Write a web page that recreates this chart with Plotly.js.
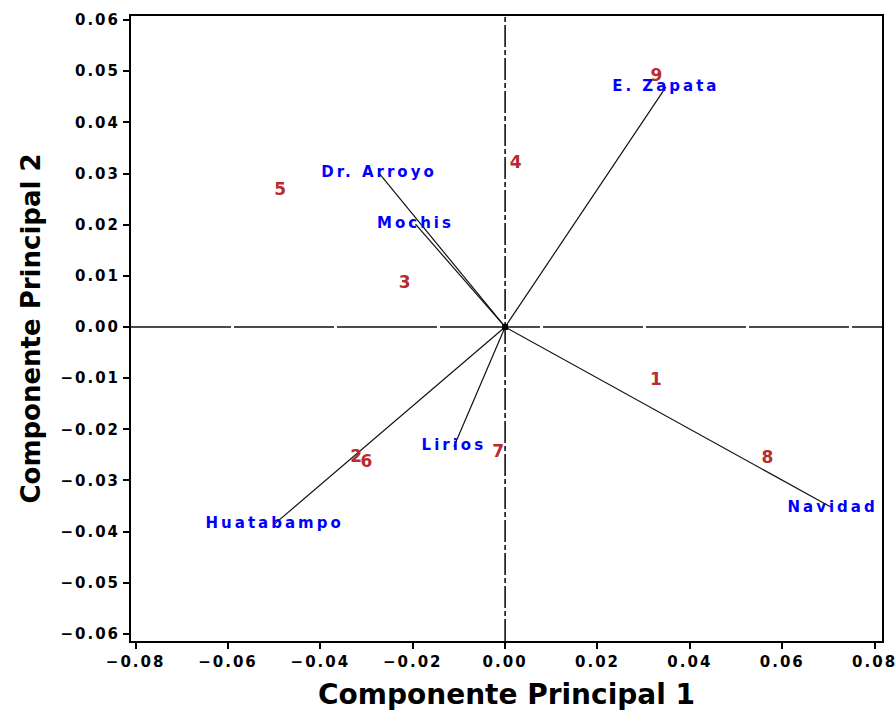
<!DOCTYPE html>
<html>
<head>
<meta charset="utf-8">
<script src="https://cdn.plot.ly/plotly-3.0.1.min.js"></script>
<style>
  html, body { margin: 0; padding: 0; background: #ffffff; }
  #chart { width: 896px; height: 721px; }
  /* wide, spaced lettering for tick labels and point labels */
  .xtick text, .ytick text { letter-spacing: 2px; }
  .textpoint text { letter-spacing: 3px; }
</style>
</head>
<body>
<div id="chart"></div>
<script>
// Variable loadings (arrows from the origin)
const varNames = ["Dr. Arroyo", "Mochis", "E. Zapata", "Huatabampo", "Lirios", "Navidad"];
const varPC1 = [-0.0273, -0.0194, 0.0348, -0.0499, -0.0111, 0.0709];
const varPC2 = [0.0301, 0.0201, 0.0469, -0.0385, -0.0234, -0.0354];

// Observation scores (numbered points)
const obsLabels = ["1", "2", "3", "4", "5", "6", "7", "8", "9"];
const obsPC1 = [0.0330, -0.0319, -0.0214, 0.0026, -0.0484, -0.0297, -0.0012, 0.0571, 0.0331];
const obsPC2 = [-0.0105, -0.0256, 0.0084, 0.0320, 0.0266, -0.0266, -0.0246, -0.0258, 0.0489];

// Axis ticks
const tickVals = [-0.08, -0.06, -0.04, -0.02, 0.00, 0.02, 0.04, 0.06, 0.08];
const yTickVals = [-0.06, -0.05, -0.04, -0.03, -0.02, -0.01, 0.00, 0.01, 0.02, 0.03, 0.04, 0.05, 0.06];

const traces = [];

// one line segment per variable, origin -> loading
varNames.forEach((name, i) => {
  traces.push({
    type: "scatter",
    mode: "lines",
    x: [0, varPC1[i]],
    y: [0, varPC2[i]],
    line: { color: "#111111", width: 1.2 },
    hoverinfo: "skip",
    showlegend: false
  });
});

// origin marker
traces.push({
  type: "scatter",
  mode: "markers",
  x: [0],
  y: [0],
  marker: { symbol: "square", size: 6, color: "#000000" },
  hoverinfo: "skip",
  showlegend: false
});

// variable names at arrow tips
traces.push({
  type: "scatter",
  mode: "text",
  x: varPC1,
  y: varPC2,
  text: varNames,
  textposition: "middle center",
  textfont: { family: "DejaVu Sans", size: 15, weight: "bold", color: "#0000ff" },
  hoverinfo: "text",
  showlegend: false
});

// observation numbers
traces.push({
  type: "scatter",
  mode: "text",
  x: obsPC1,
  y: obsPC2,
  text: obsLabels,
  textposition: "middle center",
  textfont: { family: "DejaVu Sans", size: 17, weight: "bold", color: "#b82c2c" },
  hoverinfo: "text",
  showlegend: false
});

const tickFont = { family: "DejaVu Sans", size: 15, weight: "bold", color: "#000000" };

const layout = {
  width: 896,
  height: 721,
  margin: { l: 131, r: 14, t: 16, b: 80 },
  paper_bgcolor: "#ffffff",
  plot_bgcolor: "#ffffff",
  showlegend: false,
  xaxis: {
    range: [-0.0810, 0.0816],
    tickvals: tickVals,
    tickformat: ".2f",
    ticks: "outside",
    ticklen: 6,
    tickwidth: 2,
    tickcolor: "#000000",
    tickfont: tickFont,
    ticklabeloverflow: "allow",
    showline: true,
    linecolor: "#000000",
    linewidth: 2,
    mirror: true,
    showgrid: false,
    zeroline: false,
    title: {
      text: "Componente Principal 1",
      font: { family: "DejaVu Sans", size: 28, weight: "bold", color: "#000000" },
      standoff: 14
    }
  },
  yaxis: {
    range: [-0.0614, 0.0608],
    tickvals: yTickVals,
    tickformat: ".2f",
    ticks: "outside",
    ticklen: 6,
    tickwidth: 2,
    tickcolor: "#000000",
    tickfont: tickFont,
    ticklabeloverflow: "allow",
    showline: true,
    linecolor: "#000000",
    linewidth: 2,
    mirror: true,
    showgrid: false,
    zeroline: false,
    title: {
      text: "Componente Principal 2",
      font: { family: "DejaVu Sans", size: 26, weight: "bold", color: "#000000" },
      standoff: 12
    }
  },
  shapes: [
    // horizontal reference line at PC2 = 0
    {
      type: "line", xref: "paper", yref: "y",
      x0: 0, x1: 1, y0: 0, y1: 0,
      line: { color: "#111111", width: 1.6, dash: "100px,3px" },
      layer: "below"
    },
    // vertical reference line at PC1 = 0
    {
      type: "line", xref: "x", yref: "paper",
      x0: 0, x1: 0, y0: 0, y1: 1,
      line: { color: "#111111", width: 1.6, dash: "22px,3px,5px,3px" },
      layer: "below"
    }
  ]
};

Plotly.newPlot("chart", traces, layout, { displayModeBar: false, staticPlot: true });
</script>
</body>
</html>
